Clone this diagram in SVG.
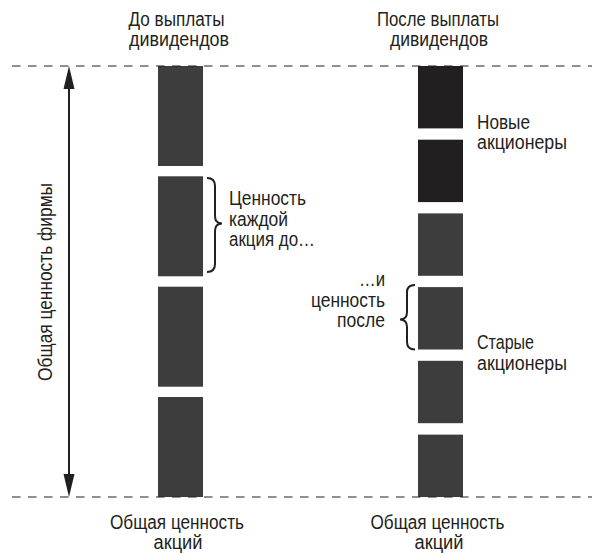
<svg xmlns="http://www.w3.org/2000/svg" width="599" height="553" viewBox="0 0 599 553">
  <defs>
    <style>
      .lbl { font-family: "Liberation Sans", Arial, sans-serif; font-size: 19.5px; fill: #231f20; }
      .mid { text-anchor: middle; }
      .end { text-anchor: end; }
      .bar { fill: #3d3d3d; }
      .bar-new { fill: #231f20; }
      .dash { stroke: #231f20; stroke-width: 1.1; stroke-dasharray: 8.5 7.5; fill: none; }
      .brace { stroke: #231f20; stroke-width: 2; fill: none; stroke-linejoin: miter; }
      .axis { stroke: #231f20; stroke-width: 2; fill: none; }
      .head { fill: #231f20; }
    </style>
  </defs>
  <rect width="599" height="553" fill="#ffffff"/>

  <!-- column headings -->
  <g id="heading-before">
    <text class="lbl mid" x="176.5" y="26" textLength="96" lengthAdjust="spacingAndGlyphs">До выплаты</text>
    <text class="lbl mid" x="179" y="46" textLength="100" lengthAdjust="spacingAndGlyphs">дивидендов</text>
  </g>
  <g id="heading-after">
    <text class="lbl mid" x="438" y="26" textLength="122" lengthAdjust="spacingAndGlyphs">После выплаты</text>
    <text class="lbl mid" x="439" y="46" textLength="98" lengthAdjust="spacingAndGlyphs">дивидендов</text>
  </g>

  <!-- shares before the payout: four equal blocks -->
  <g id="stack-before">
    <rect class="bar" x="158" y="66" width="45" height="100"/>
    <rect class="bar" x="158" y="176.3" width="45" height="100"/>
    <rect class="bar" x="158" y="286.7" width="45" height="100"/>
    <rect class="bar" x="158" y="397" width="45" height="100"/>
  </g>

  <!-- shares after the payout: two new blocks on top, four old below -->
  <g id="stack-after">
    <rect class="bar-new" x="418" y="66" width="45" height="62.4"/>
    <rect class="bar-new" x="418" y="139.7" width="45" height="62.4"/>
    <rect class="bar" x="418" y="213.4" width="45" height="62.4"/>
    <rect class="bar" x="418" y="287.1" width="45" height="62.4"/>
    <rect class="bar" x="418" y="360.8" width="45" height="62.4"/>
    <rect class="bar" x="418" y="434.6" width="45" height="62.4"/>
  </g>

  <!-- connectors: reference lines, value arrow, braces -->
  <g id="connectors">
    <line class="dash" x1="12" y1="66" x2="592" y2="66"/>
    <line class="dash" x1="12" y1="497" x2="592" y2="497"/>
    <line class="axis" x1="69" y1="86" x2="69" y2="477"/>
    <polygon class="head" points="69,66 74.5,89 63.5,89"/>
    <polygon class="head" points="69,497 74.5,474 63.5,474"/>
    <path class="brace" d="M207,178 Q215,178 215,186 L215,216 Q215,223.5 222,223.5 Q215,223.5 215,231 L215,264 Q215,272 207,272"/>
    <path class="brace" d="M415,285 Q407,285 407,292 L407,312 Q407,319.5 400,319.5 Q407,319.5 407,327 L407,342 Q407,349.5 415,349.5"/>
  </g>

  <g id="label-firm-value">
    <text class="lbl mid" transform="translate(52,282) rotate(-90)" textLength="198" lengthAdjust="spacingAndGlyphs">Общая ценность фирмы</text>
  </g>

  <g id="label-value-before">
    <text class="lbl" x="229" y="205" textLength="77" lengthAdjust="spacingAndGlyphs">Ценность</text>
    <text class="lbl" x="229" y="226" textLength="59" lengthAdjust="spacingAndGlyphs">каждой</text>
    <text class="lbl" x="229" y="246" textLength="86" lengthAdjust="spacingAndGlyphs">акция до…</text>
  </g>

  <g id="label-value-after">
    <text class="lbl end" x="385" y="286" textLength="26" lengthAdjust="spacingAndGlyphs">…и</text>
    <text class="lbl end" x="385" y="307" textLength="74" lengthAdjust="spacingAndGlyphs">ценность</text>
    <text class="lbl end" x="385" y="327" textLength="48" lengthAdjust="spacingAndGlyphs">после</text>
  </g>

  <g id="label-new-holders">
    <text class="lbl" x="477" y="129" textLength="53" lengthAdjust="spacingAndGlyphs">Новые</text>
    <text class="lbl" x="477" y="149" textLength="90" lengthAdjust="spacingAndGlyphs">акционеры</text>
  </g>

  <g id="label-old-holders">
    <text class="lbl" x="477" y="349" textLength="57" lengthAdjust="spacingAndGlyphs">Старые</text>
    <text class="lbl" x="477" y="370" textLength="90" lengthAdjust="spacingAndGlyphs">акционеры</text>
  </g>

  <g id="total-before">
    <text class="lbl mid" x="177" y="529" textLength="134" lengthAdjust="spacingAndGlyphs">Общая ценность</text>
    <text class="lbl mid" x="178" y="549" textLength="49" lengthAdjust="spacingAndGlyphs">акций</text>
  </g>
  <g id="total-after">
    <text class="lbl mid" x="437.5" y="529" textLength="134" lengthAdjust="spacingAndGlyphs">Общая ценность</text>
    <text class="lbl mid" x="439" y="549" textLength="49" lengthAdjust="spacingAndGlyphs">акций</text>
  </g>
</svg>
